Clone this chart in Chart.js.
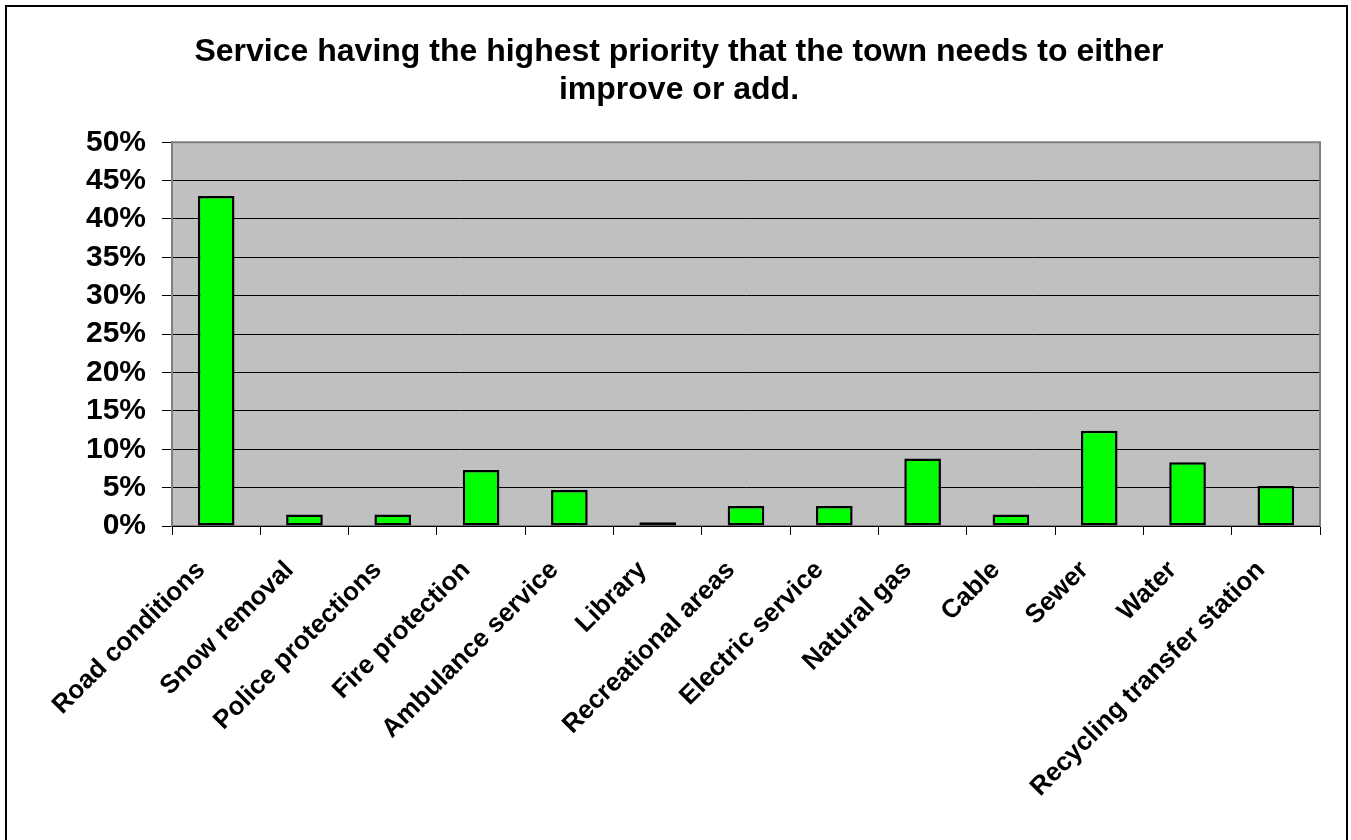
<!DOCTYPE html>
<html>
<head>
<meta charset="utf-8">
<title>Service priorities</title>
<script src="https://cdn.jsdelivr.net/npm/chart.js@4.4.1/dist/chart.umd.min.js"></script>
<style>
  html, body { margin: 0; padding: 0; background: #ffffff; }
  #wrap { width: 1351px; height: 840px; }
</style>
</head>
<body>
<div id="wrap"><canvas id="chart" width="1351" height="840"></canvas></div>
<script>
// Survey answers: service the town most needs to improve or add (share of respondents, %)
const categories = [
  'Road conditions', 'Snow removal', 'Police protections', 'Fire protection',
  'Ambulance service', 'Library', 'Recreational areas', 'Electric service',
  'Natural gas', 'Cable', 'Sewer', 'Water', 'Recycling transfer station'
];
const shares = [43.0, 1.5, 1.5, 7.3, 4.7, 0.5, 2.6, 2.6, 8.8, 1.5, 12.4, 8.3, 5.2];
const titleLines = ['Service having the highest priority that the town needs to either', 'improve or add.'];
const yMax = 50;
const yStep = 5;

const FONT = "'Liberation Sans', Arial, Helvetica, sans-serif";

// Grey plot panel, its frame and the outer frame of the whole chart
const framePlugin = {
  id: 'frames',
  beforeDraw(chart) {
    const { ctx, chartArea: a } = chart;
    ctx.save();
    ctx.fillStyle = '#ffffff';
    ctx.fillRect(0, 0, chart.width, chart.height);
    ctx.fillStyle = '#c0c0c0';
    ctx.fillRect(a.left, a.top, a.right - a.left, a.bottom - a.top);
    ctx.restore();
  },
  beforeDatasetsDraw(chart) {
    const { ctx, chartArea: a } = chart;
    ctx.save();
    ctx.strokeStyle = '#808080';
    ctx.lineWidth = 2;
    ctx.strokeRect(a.left, a.top, a.right - a.left, a.bottom - a.top);
    ctx.strokeStyle = '#000000';
    ctx.lineWidth = 1;
    ctx.beginPath();
    ctx.moveTo(a.left, a.bottom + 0.5);
    ctx.lineTo(a.right, a.bottom + 0.5);
    ctx.stroke();
    ctx.restore();
  },
  afterDraw(chart) {
    const { ctx } = chart;
    ctx.save();
    ctx.strokeStyle = '#000000';
    ctx.lineWidth = 2;
    ctx.strokeRect(6, 6, chart.width - 10, chart.height + 20);
    ctx.restore();
  }
};

new Chart(document.getElementById('chart'), {
  type: 'bar',
  data: {
    labels: categories,
    datasets: [{
      data: shares,
      backgroundColor: '#00ff00',
      borderColor: '#000000',
      borderWidth: 2.5,
      borderSkipped: false,
      barPercentage: 0.415,
      categoryPercentage: 1.0
    }]
  },
  options: {
    responsive: false,
    animation: false,
    layout: { padding: { top: 0, left: 7, right: 0, bottom: 0 } },
    plugins: {
      legend: { display: false },
      tooltip: { enabled: false },
      title: {
        display: true,
        text: titleLines,
        color: '#000000',
        font: { family: FONT, size: 32, weight: 'bold', lineHeight: 1.16 },
        padding: { top: 34, bottom: 34 }
      }
    },
    scales: {
      x: {
        grid: {
          display: true,
          drawOnChartArea: false,
          drawTicks: true,
          tickLength: 9,
          tickColor: '#000000',
          offset: true
        },
        border: { display: false },
        ticks: {
          autoSkip: false,
          maxRotation: 45,
          minRotation: 45,
          padding: 20,
          labelOffset: -15,
          color: '#000000',
          font: { family: FONT, size: 26, weight: 'bold' }
        },
        afterFit(scale) { scale.height = 840 - 526; }
      },
      y: {
        min: 0,
        max: yMax,
        grid: {
          color: '#000000',
          lineWidth: 1,
          drawTicks: true,
          tickLength: 10,
          tickColor: '#000000'
        },
        border: { display: true, color: '#808080', width: 2 },
        ticks: {
          autoSkip: false,
          stepSize: yStep,
          padding: 16,
          color: '#000000',
          font: { family: FONT, size: 30, weight: 'bold' },
          callback: v => v + '%'
        },
        afterFit(scale) { scale.width = 165; }
      },
      // empty right-hand axis that only reserves the margin beside the plot
      side: {
        axis: 'y',
        position: 'right',
        display: true,
        grid: { display: false, drawTicks: false },
        border: { display: false },
        ticks: { display: false },
        afterFit(scale) { scale.width = 31; }
      }
    }
  },
  plugins: [framePlugin]
});
</script>
</body>
</html>
